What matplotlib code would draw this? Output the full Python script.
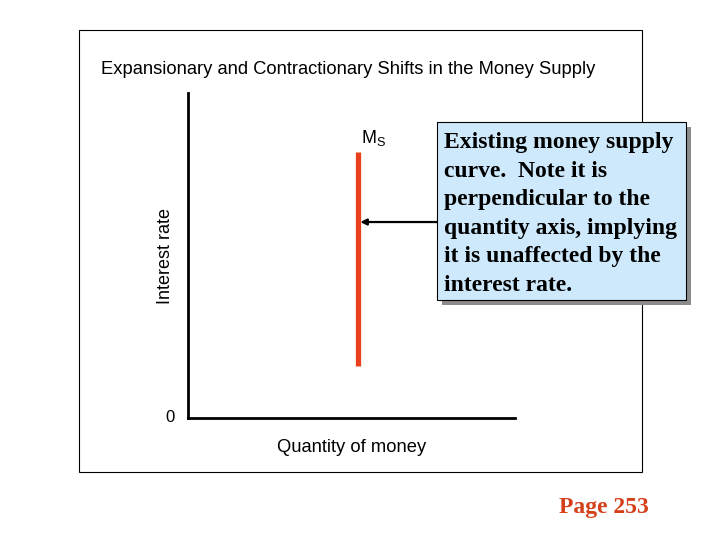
import matplotlib
matplotlib.use("Agg")
import matplotlib.pyplot as plt
from matplotlib.patches import Rectangle

# Data
ms_quantity = 5.2
ms_rate_range = [1.6, 8.2]
arrow_rate = 6.03
title = "Expansionary and Contractionary Shifts in the Money Supply"
xlabel = "Quantity of money"
ylabel = "Interest rate"
callout = ("Existing money supply\ncurve.  Note it is\nperpendicular to the\n"
           "quantity axis, implying\nit is unaffected by the\ninterest rate.")
page_label = "Page 253"

W, H = 720, 540
fig = plt.figure(figsize=(7.2, 5.4), dpi=100)
fig.patch.set_facecolor("white")

def fx(px):
    return px / W

def fy(py):
    return 1 - py / H

# outer frame
fig.add_artist(Rectangle((fx(79), fy(472)), fx(642) - fx(79), fy(30) - fy(472),
                         transform=fig.transFigure, fill=False, ec="black", lw=0.8))

fig.text(fx(101), fy(69), title, fontsize=13.2, family="Liberation Sans",
         ha="left", va="center")

ax = fig.add_axes([fx(188), fy(418), fx(515) - fx(188), fy(93) - fy(418)])
ax.set_xlim(0, 10)
ax.set_ylim(0, 10)
for s in ["top", "right"]:
    ax.spines[s].set_visible(False)
for s in ["left", "bottom"]:
    ax.spines[s].set_linewidth(2)
ax.set_xticks([])
ax.set_yticks([])
ax.patch.set_alpha(0)

ax.plot([ms_quantity, ms_quantity], ms_rate_range, color="#E8401C", lw=3.8,
        solid_capstyle="butt")
ax.text(ms_quantity + 0.1, ms_rate_range[1] + 0.1, r"M$_\mathregular{S}$",
        fontsize=13, family="Liberation Sans", ha="left", va="bottom")
ax.text(-0.55, 0, "0", fontsize=12, family="Liberation Sans", ha="center", va="center")
ax.set_xlabel(xlabel, fontsize=13.2, family="Liberation Sans", labelpad=15)
ax.set_ylabel(ylabel, fontsize=13, family="Liberation Sans", labelpad=10)

# arrow from callout box to MS line
bx0 = (437 - 188) / 327 * 10
ax.annotate("", xy=(ms_quantity + 0.07, arrow_rate), xytext=(bx0, arrow_rate),
            arrowprops=dict(arrowstyle="-|>", color="black", lw=1.6,
                            mutation_scale=9, shrinkA=0, shrinkB=0))

# callout box with shadow
bx, by, bw, bh = 437, 122, 249, 178
fig.add_artist(Rectangle((fx(bx + 5), fy(by + bh + 5)), fx(bw), bh / H,
                         transform=fig.transFigure, fc="#8c8c8c", ec="none"))
fig.add_artist(Rectangle((fx(bx), fy(by + bh)), fx(bw), bh / H,
                         transform=fig.transFigure, fc="#CDE9FB", ec="black", lw=0.8))
fig.text(fx(444), fy(214), callout, fontsize=17, family="Liberation Serif",
         fontweight="bold", ha="left", va="center", linespacing=1.47)

fig.text(fx(604), fy(507), page_label, fontsize=17, family="Liberation Serif",
         fontweight="bold", color="#D4401A", ha="center", va="center")

fig.savefig("out.png", dpi=100)
